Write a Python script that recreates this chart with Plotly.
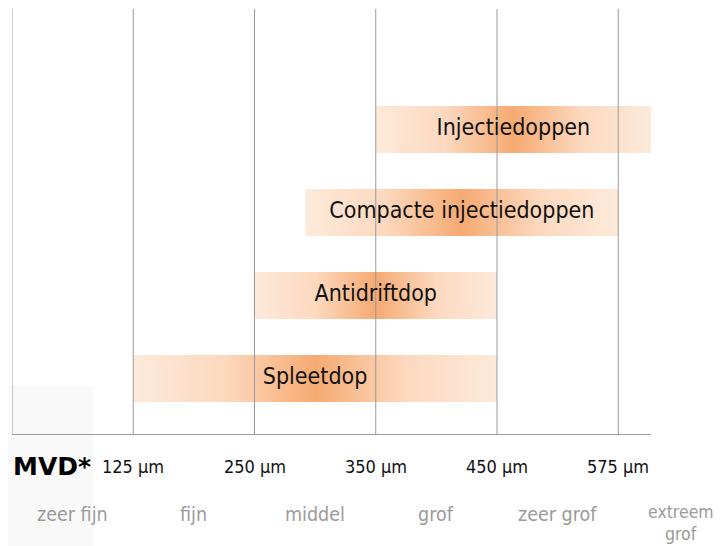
import plotly.graph_objects as go

# --- data ---
nozzles = ["Spleetdop", "Antidriftdop", "Compacte injectiedoppen", "Injectiedoppen"]
bar_start = [1.0, 2.0, 2.42, 3.0]    # axis units (class boundaries)
bar_end = [4.0, 4.0, 5.0, 5.27]
tick_pos = [0, 1, 2, 3, 4, 5]
tick_labels = ["", "125 µm", "250 µm", "350 µm", "450 µm", "575 µm"]
class_pos = [0.5, 1.5, 2.5, 3.5, 4.5, 5.52]
class_labels = ["zeer fijn", "fijn", "middel", "grof", "zeer grof", "extreem<br>grof"]

FONT = "DejaVu Sans Condensed"
XMAX = 5.27
half_h = 0.283
grad = [[0, "#fdeadb"], [0.25, "#fcd9bf"], [0.5, "#f6aa72"], [0.75, "#fcd9bf"], [1, "#fdeadb"]]

fig = go.Figure()
for i, (name, s, e) in enumerate(zip(nozzles, bar_start, bar_end)):
    fig.add_trace(go.Scatter(
        x=[s, e, e, s, s], y=[i - half_h, i - half_h, i + half_h, i + half_h, i - half_h],
        mode="lines", line=dict(width=0), fill="toself",
        fillgradient=dict(type="horizontal", colorscale=grad),
        hoverinfo="skip", showlegend=False))

# vertical class boundary lines (above bars)
for t in tick_pos:
    fig.add_trace(go.Scatter(x=[t, t], y=[-0.669, 4.452], mode="lines",
                             line=dict(color="#9a9a9a", width=1),
                             hoverinfo="skip", showlegend=False))

for i, (name, s, e) in enumerate(zip(nozzles, bar_start, bar_end)):
    fig.add_trace(go.Scatter(x=[(s + e) / 2], y=[i], mode="text", text=[name],
                             textfont=dict(family=FONT, size=23, color="#111111"),
                             hoverinfo="skip", showlegend=False))

annotations = []
for p, lab in zip(tick_pos, tick_labels):
    if lab:
        annotations.append(dict(x=p / XMAX, y=0, xref="paper", yref="paper", text=lab,
                                showarrow=False, xanchor="center", yanchor="middle",
                                yshift=-32, borderpad=0,
                                font=dict(family=FONT, size=18, color="#111111")))
for p, lab in zip(class_pos, class_labels):
    lines = lab.split("<br>")
    multi = len(lines) > 1
    for k, line in enumerate(lines):
        annotations.append(dict(x=p / XMAX, y=0, xref="paper", yref="paper", text=line,
                                showarrow=False, xanchor="center", yanchor="middle",
                                yshift=(-78 - 22 * k) if multi else -80, borderpad=0,
                                font=dict(family=FONT, size=17.5 if multi else 19.5,
                                          color="#9a9a9a")))
annotations.append(dict(x=0, y=0, xref="paper", yref="paper", text="<b>MVD*</b>",
                        showarrow=False, xanchor="left", yanchor="middle", yshift=-32,
                        borderpad=0,
                        font=dict(family="DejaVu Sans", size=25, color="#000000")))

fig.update_layout(
    width=725, height=546,
    margin=dict(l=4, r=82, t=1, b=120),
    paper_bgcolor="white", plot_bgcolor="white",
    xaxis=dict(range=[0, XMAX], showgrid=False, zeroline=False, showticklabels=False,
               showline=True, linecolor="#9a9a9a", linewidth=1, fixedrange=True),
    yaxis=dict(range=[-0.669, 4.452], showgrid=False, zeroline=False,
               showticklabels=False, fixedrange=True),
    annotations=annotations,
    shapes=[dict(type="rect", xref="paper", yref="paper", x0=-12 / 639, x1=81 / 639,
                 y0=-120 / 425, y1=48 / 425, fillcolor="#f9f9f9", line=dict(width=0),
                 layer="below")],
)

fig.write_html("out.html")
